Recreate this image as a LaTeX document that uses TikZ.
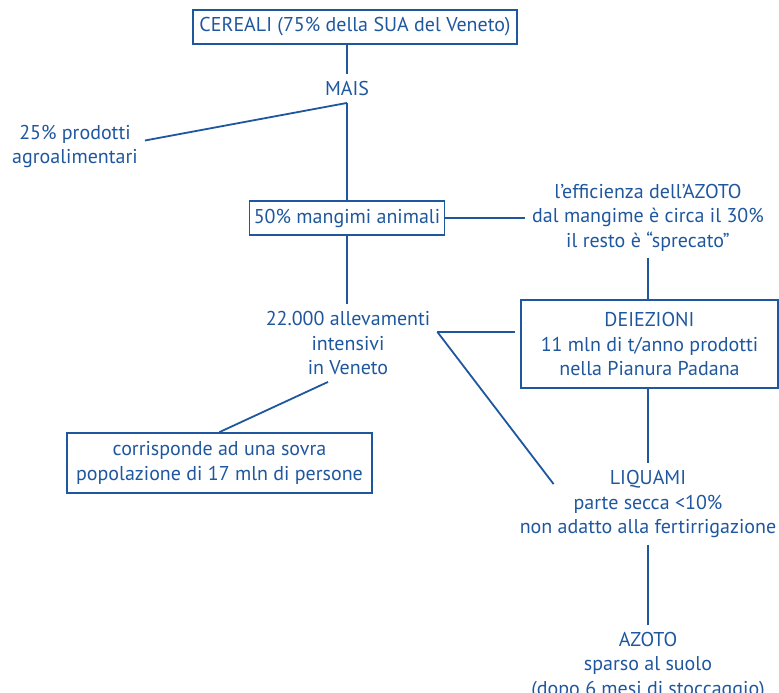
\documentclass[tikz,border=0pt]{standalone}
\usepackage{fontspec}
\setmainfont{PT Sans}
\usetikzlibrary{positioning}
\definecolor{flowblue}{RGB}{31,87,158}

\begin{document}
\begin{tikzpicture}[
	x=1pt, y=1pt,
	every node/.style={text=flowblue, font=\fontsize{20}{24.5}\selectfont, align=center},
	txt/.style={inner sep=7pt},
	tbox/.style={rectangle, draw=flowblue, line width=1.8pt, inner sep=2pt},
	link/.style={draw=flowblue, line width=1.8pt},
	]
	\useasboundingbox (0,0) rectangle (779,-693);

	% left column
	\node[tbox, minimum width=324, minimum height=34] (cereali) at (355,-27) {CEREALI (75\% della SUA del Veneto)};
	\node[txt] (mais) at (347,-88.5) {MAIS};
	\node[txt] (prodotti) at (75,-146.5) {25\% prodotti\\agroalimentari};
	\node[tbox, minimum width=195, minimum height=34] (mangimi) at (347,-218) {50\% mangimi animali};
	\node[txt] (allevamenti) at (348,-343) {22.000 allevamenti\\intensivi\\in Veneto};
	\node[tbox, minimum width=305, minimum height=60] (corrisponde) at (219.5,-463) {corrisponde ad una sovra\\popolazione di 17 mln di persone};

	% right column
	\node[txt] (efficienza) at (648,-217.5) {l’efficienza dell’AZOTO\\dal mangime è circa il 30\%\\il resto è “sprecato”};
	\node[tbox, minimum width=257, minimum height=88] (deiezioni) at (649.5,-344) {DEIEZIONI\\11 mln di t/anno prodotti\\nella Pianura Padana};
	\node[txt] (liquami) at (648,-504) {LIQUAMI\\parte secca <10\%\\non adatto alla fertirrigazione};
	\node[txt] (azoto) at (648,-666) {AZOTO\\sparso al suolo\\(dopo 6 mesi di stoccaggio)};

	\draw[link] (cereali.south -| mais) -- (mais.north);
	\draw[link] (mais.south) -- (mangimi.north -| mais);
	\draw[link] (mais.south) -- ([yshift=6pt]prodotti.east);
	\draw[link] (mangimi.east) -- (mangimi.east -| efficienza.west);
	\draw[link] (efficienza.south) -- (efficienza.south |- deiezioni.north);
	\draw[link] (mangimi.south) -- (mangimi.south |- allevamenti.north);

	\coordinate (bivio) at ([yshift=11pt]allevamenti.east);
	\draw[link, shorten >=5pt] (bivio) -- (bivio -| deiezioni.west);
	\draw[link] (bivio) -- ([xshift=41pt,yshift=-21pt]liquami.north west);
	\draw[link] ([xshift=-20pt]allevamenti.south) -- (corrisponde.north);

	\draw[link] (deiezioni.south -| liquami) -- (liquami.north);
	\draw[link] (liquami.south) -- (azoto.north);
\end{tikzpicture}
\end{document}
